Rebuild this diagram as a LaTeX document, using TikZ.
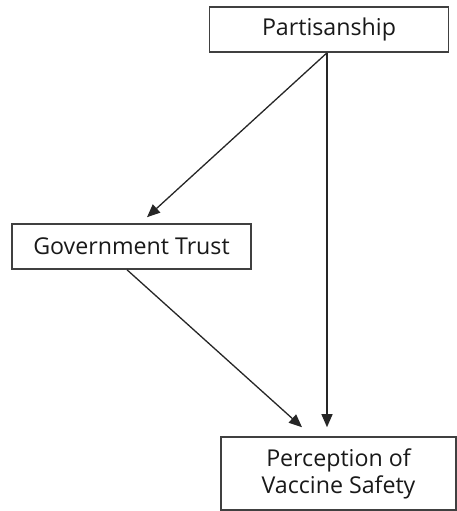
\documentclass[tikz,border=0pt]{standalone}
\usepackage{fontspec}
\setmainfont{Open Sans}
\usetikzlibrary{arrows.meta}
\begin{document}
\begin{tikzpicture}[x=1pt,y=-1pt,
  box/.style={draw=black!75, line width=1.6pt, fill=white, inner sep=0pt,
    align=center, font=\fontsize{23.2}{27}\selectfont, text=black!90},
  arr/.style={draw=black!85, line width=1.3pt,
    -{Triangle[length=13pt,width=11pt]}}]
\useasboundingbox (0,0) rectangle (457,511);
\node[box, minimum width=239pt, minimum height=45pt] (P) at (329,29.5) {Partisanship};
\node[box, minimum width=239pt, minimum height=45pt] (G) at (131.5,246.5) {Government Trust};
\node[box, minimum width=235pt, minimum height=73pt] (V) at (338.5,473.5) {Perception of\\Vaccine Safety};
\draw[arr] ([xshift=-2pt]P.south) -- ([xshift=15.5pt,yshift=6pt]G.north);
\draw[arr] ([xshift=-2pt]P.south) -- ([xshift=-11.5pt,yshift=9pt]V.north);
\draw[arr] ([xshift=-4.5pt]G.south) -- ([xshift=-36.5pt,yshift=9pt]V.north);
\end{tikzpicture}
\end{document}
